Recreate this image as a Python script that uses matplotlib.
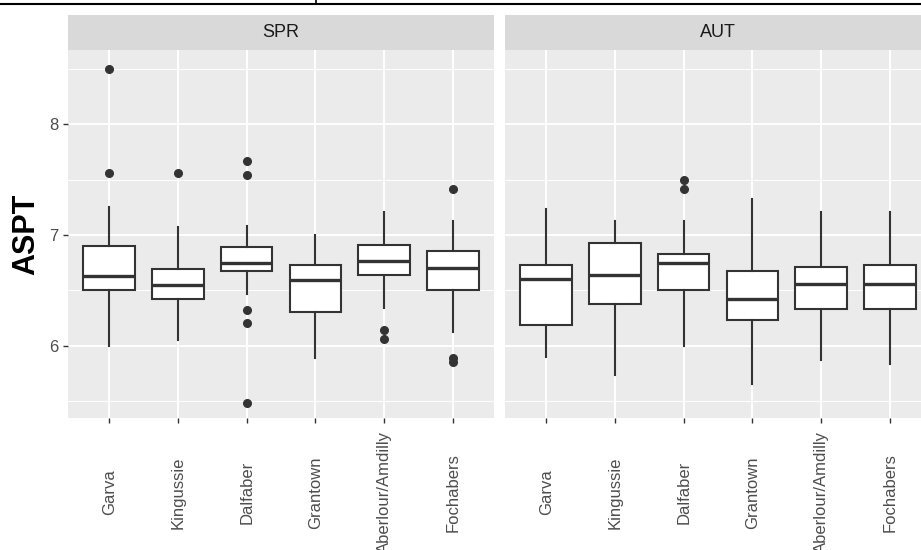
import matplotlib
matplotlib.use("Agg")
import matplotlib.pyplot as plt
from matplotlib.lines import Line2D

plt.rcParams['font.family'] = ['Liberation Sans', 'DejaVu Sans']

sites = ["Garva", "Kingussie", "Dalfaber", "Grantown", "Aberlour/Amdilly", "Fochabers"]
seasons = ["SPR", "AUT"]

# five-number summaries per season (order follows `sites`)
spr_whislo = [6.00, 6.05, 6.47, 5.89, 6.34, 6.13]
spr_q1     = [6.50, 6.42, 6.68, 6.31, 6.64, 6.50]
spr_med    = [6.63, 6.55, 6.75, 6.59, 6.77, 6.70]
spr_q3     = [6.90, 6.69, 6.89, 6.73, 6.91, 6.86]
spr_whishi = [7.25, 7.07, 7.08, 7.00, 7.21, 7.13]
spr_fliers = [[7.56, 8.50], [7.56], [7.54, 7.67, 6.32, 6.21, 5.49], [], [6.14, 6.06], [7.41, 5.89, 5.86]]

aut_whislo = [5.90, 5.74, 6.00, 5.66, 5.87, 5.84]
aut_q1     = [6.19, 6.38, 6.50, 6.23, 6.33, 6.33]
aut_med    = [6.60, 6.64, 6.75, 6.42, 6.56, 6.56]
aut_q3     = [6.73, 6.93, 6.83, 6.68, 6.71, 6.73]
aut_whishi = [7.23, 7.13, 7.13, 7.32, 7.21, 7.21]
aut_fliers = [[], [], [7.41, 7.50], [], [], []]

y_ticks = [6, 7, 8]
y_minor = [5.5, 6.5, 7.5, 8.5]


def make_stats(lo, q1, med, q3, hi, fl):
    return [dict(whislo=a, q1=b, med=c, q3=d, whishi=e, fliers=f, label=s)
            for a, b, c, d, e, f, s in zip(lo, q1, med, q3, hi, fl, sites)]


season_stats = {
    "SPR": make_stats(spr_whislo, spr_q1, spr_med, spr_q3, spr_whishi, spr_fliers),
    "AUT": make_stats(aut_whislo, aut_q1, aut_med, aut_q3, aut_whishi, aut_fliers),
}

W, H = 921, 550
fig = plt.figure(figsize=(W / 100, H / 100), dpi=100)
fig.patch.set_facecolor("white")

panel_top, panel_bot = 50, 418
strip_top = 15
panel_w = 426
lefts = [68, 505]
edge = "#333333"

for i, season in enumerate(seasons):
    left = lefts[i]
    ax = fig.add_axes([left / W, 1 - panel_bot / H, panel_w / W, (panel_bot - panel_top) / H])
    ax.set_facecolor("#EBEBEB")
    for sp in ax.spines.values():
        sp.set_visible(False)
    ax.set_axisbelow(True)
    positions = list(range(1, len(sites) + 1))
    ax.bxp(season_stats[season], positions=positions, widths=0.75, showcaps=False,
           patch_artist=True,
           boxprops=dict(facecolor="white", edgecolor=edge, linewidth=1.5),
           whiskerprops=dict(color=edge, linewidth=1.5),
           medianprops=dict(color=edge, linewidth=2.4, solid_capstyle="butt"),
           flierprops=dict(marker="o", markerfacecolor=edge, markeredgecolor=edge, markersize=5.5))
    ax.set_xlim(0.4, 6.6)
    ax.set_ylim(5.351, 8.667)
    ax.set_yticks(y_ticks)
    ax.set_yticks(y_minor, minor=True)
    ax.grid(True, which="major", color="white", linewidth=1.4)
    ax.grid(True, which="minor", axis="y", color="white", linewidth=0.7)
    ax.set_xticks(positions)
    ax.set_xticklabels(sites, rotation=90, va="center", ha="center",
                       fontsize=12, color="#4D4D4D")
    ax.tick_params(axis="x", which="major", length=3.6, width=1.0, color=edge, pad=50)
    ax.tick_params(axis="y", which="major", length=3.6, width=1.0, color=edge, pad=3,
                   labelsize=12, labelcolor="#4D4D4D")
    ax.tick_params(axis="y", which="minor", length=0)
    if i == 0:
        ax.set_yticklabels([str(t) for t in y_ticks])
        ax.set_ylabel("ASPT", fontsize=22, fontweight="bold", color="black", labelpad=6)
    else:
        ax.tick_params(axis="y", which="major", length=0, labelleft=False)

    sax = fig.add_axes([left / W, 1 - panel_top / H, panel_w / W, (panel_top - strip_top) / H])
    sax.set_facecolor("#D9D9D9")
    sax.set_xticks([])
    sax.set_yticks([])
    for sp in sax.spines.values():
        sp.set_visible(False)
    sax.text(0.5, 0.5, season, ha="center", va="center", fontsize=13,
             color="#1A1A1A", transform=sax.transAxes)

# frame lines at top of the screenshot
fig.add_artist(Line2D([0, 1], [1 - 3.5 / H, 1 - 3.5 / H], color="black", linewidth=1.5,
                      transform=fig.transFigure))
fig.add_artist(Line2D([316 / W, 316 / W], [1, 1 - 3.5 / H], color="black", linewidth=1.2,
                      transform=fig.transFigure))

fig.savefig("out.png", dpi=100, facecolor="white")
